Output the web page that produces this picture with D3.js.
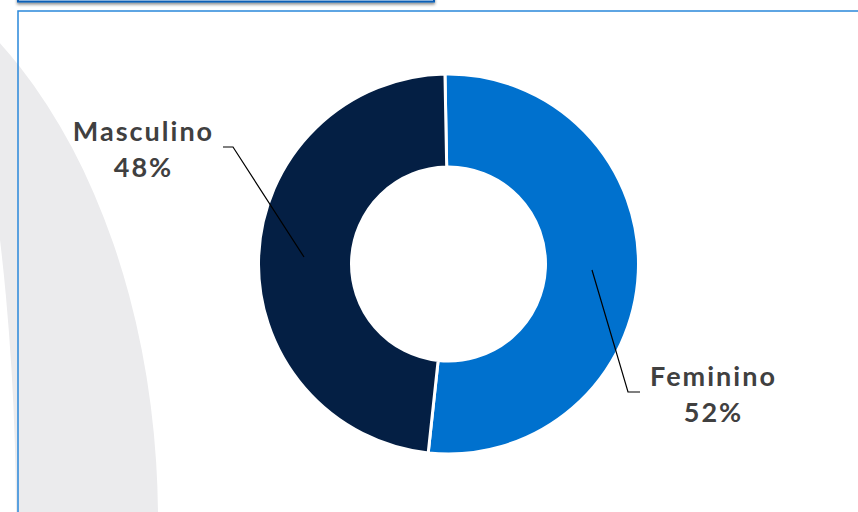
<!DOCTYPE html>
<html><head><meta charset="utf-8">
<script src="https://cdn.jsdelivr.net/npm/d3@7"></script>
<style>html,body{margin:0;padding:0;background:#fff;}svg{display:block;}</style>
</head><body>
<svg id="chart" width="858" height="512"></svg>
<script>
const categories = ["Feminino", "Masculino"];
const values = [52, 48];
const labels = ["52%", "48%"];
const colors = ["#0071ce", "#041f44"];

const svg = d3.select("#chart");
const defs = svg.append("defs");
const f = defs.append("filter").attr("id","sh").attr("x","-10%").attr("y","-50%").attr("width","120%").attr("height","300%");
f.append("feDropShadow").attr("dx",0).attr("dy",2).attr("stdDeviation",1.6).attr("flood-color","#000").attr("flood-opacity",0.45);

// background grey ring shape
const ellipsePath = (cx, cy, rx, ry) => `M${cx-rx},${cy}a${rx},${ry} 0 1,0 ${2*rx},0a${rx},${ry} 0 1,0 ${-2*rx},0Z`;
svg.append("path")
  .attr("d", ellipsePath(-221, 520, 379, 587) + ellipsePath(-221, 520, 237, 776))
  .attr("fill", "#ebebed").attr("fill-rule", "evenodd");

// top header box
svg.append("rect").attr("x", 18).attr("y", -30).attr("width", 416).attr("height", 31.5)
  .attr("fill", "#fff").attr("stroke", "#0b5fb6").attr("stroke-width", 2).attr("filter", "url(#sh)");

// frame
svg.append("rect").attr("x", 18).attr("y", 11).attr("width", 850).attr("height", 520)
  .attr("fill", "none").attr("stroke", "#2a88da").attr("stroke-width", 1.5);

const cx = 448.5, cy = 264, R = 190, r = 97;
const offset = -1.07 * Math.PI / 180;
const pie = d3.pie().sort(null).value(d => d.v)
  .startAngle(offset).endAngle(2 * Math.PI + offset);
const data = pie(categories.map((c, i) => ({c, v: values[i], l: labels[i], col: colors[i]})));
const arc = d3.arc().innerRadius(r).outerRadius(R);
const g = svg.append("g").attr("transform", `translate(${cx},${cy})`);
g.selectAll("path").data(data).join("path")
  .attr("d", arc).attr("fill", d => d.data.col)
  .attr("stroke", "#fff").attr("stroke-width", 3).attr("stroke-linejoin", "miter");

// leader lines & labels
const labelPos = {
  Feminino: {tx: 713.5, ty: 386, line: [[592, 270], [628, 392], [640, 392]]},
  Masculino: {tx: 143.5, ty: 141, line: [[223, 147], [233, 147], [304, 257]]}
};
data.forEach(d => {
  const p = labelPos[d.data.c];
  svg.append("path").attr("d", d3.line()(p.line)).attr("fill", "none")
    .attr("stroke", "#000").attr("stroke-width", 1.2);
  const t = svg.append("text").attr("x", p.tx).attr("y", p.ty).attr("text-anchor", "middle")
    .attr("font-family", "Lato, 'DejaVu Sans', sans-serif").attr("font-weight", "bold")
    .attr("font-size", 27).attr("letter-spacing", 2).attr("fill", "#404040");
  t.append("tspan").attr("x", p.tx).text(d.data.c);
  t.append("tspan").attr("x", p.tx).attr("dy", 36).text(d.data.l);
});
</script>
</body></html>
